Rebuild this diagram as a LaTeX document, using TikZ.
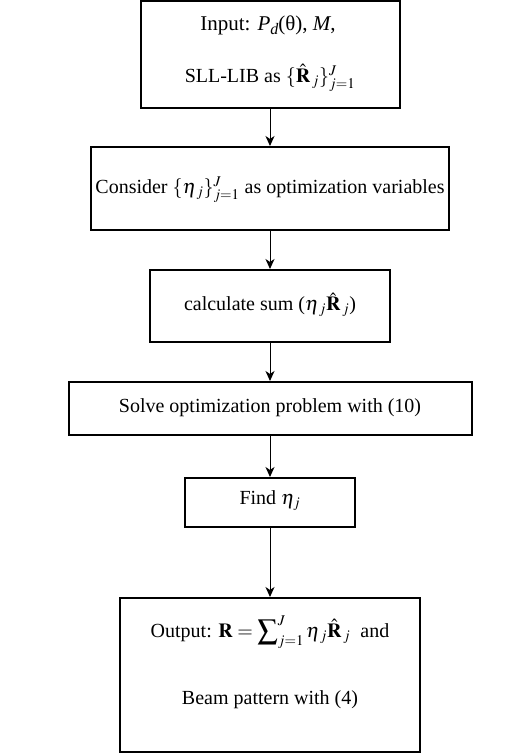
\documentclass[tikz,border=0pt]{standalone}
\usepackage{mathptmx}
\usepackage{fontspec}
\setmainfont{Liberation Serif}
\usetikzlibrary{arrows.meta}
\begin{document}
\begin{tikzpicture}[x=1pt,y=1pt,
  box/.style={draw=black,line width=2pt,inner sep=0pt,fill=white},
  txt/.style={inner sep=0pt,font=\fontsize{20}{24}\selectfont},
  conn/.style={line width=1pt,-{Stealth[length=10pt,width=9pt,inset=3pt]}}]
\useasboundingbox (0,0) rectangle (532,755);
% boxes
\node[box,minimum width=259pt,minimum height=107pt] (b1) at (270,700.5) {};
\node[box,minimum width=358pt,minimum height=83pt] (b2) at (270,566.5) {};
\node[box,minimum width=240pt,minimum height=72pt] (b3) at (270,449) {};
\node[box,minimum width=403pt,minimum height=53pt] (b4) at (270,346.5) {};
\node[box,minimum width=170pt,minimum height=49pt] (b5) at (270,252.5) {};
\node[box,minimum width=300pt,minimum height=154pt] (b6) at (270,80) {};
% texts
\node[txt,font=\fontsize{21}{25}\selectfont] (t1a) at (268,730) {Input: \textit{P}\raisebox{-4pt}{\fontsize{16}{18}\selectfont\textit{d}}(θ), \textit{M},};
\node[txt] (t1b) at (270,677) {SLL-LIB as $\{\hat{\mathbf{R}}_{\,j}\}_{j=1}^{J}$};
\node[txt] (t2) at (270,565) {Consider $\{\eta_{\,j}\}_{j=1}^{J}$ as optimization variables};
\node[txt] (t3) at (270,450) {calculate sum ($\eta_{\,j}\hat{\mathbf{R}}_{\,j}$)};
\node[txt] (t4) at (270,347) {Solve optimization problem with (10)};
\node[txt] (t5) at (270,254) {Find $\eta_j$};
\node[txt] (t6a) at (270,123) {Output: $\mathbf{R}=\displaystyle\sum\nolimits_{j=1}^{J}\eta_{\,j}\hat{\mathbf{R}}_{\,j}$ \ and};
\node[txt] (t6b) at (270,55) {Beam pattern with (4)};
% connectors
\draw[conn] (b1.south) -- (b2.north);
\draw[conn] (b2.south) -- (b3.north);
\draw[conn] (b3.south) -- (b4.north);
\draw[conn] (b4.south) -- (b5.north);
\draw[conn] (b5.south) -- (b6.north);
\end{tikzpicture}
\end{document}
